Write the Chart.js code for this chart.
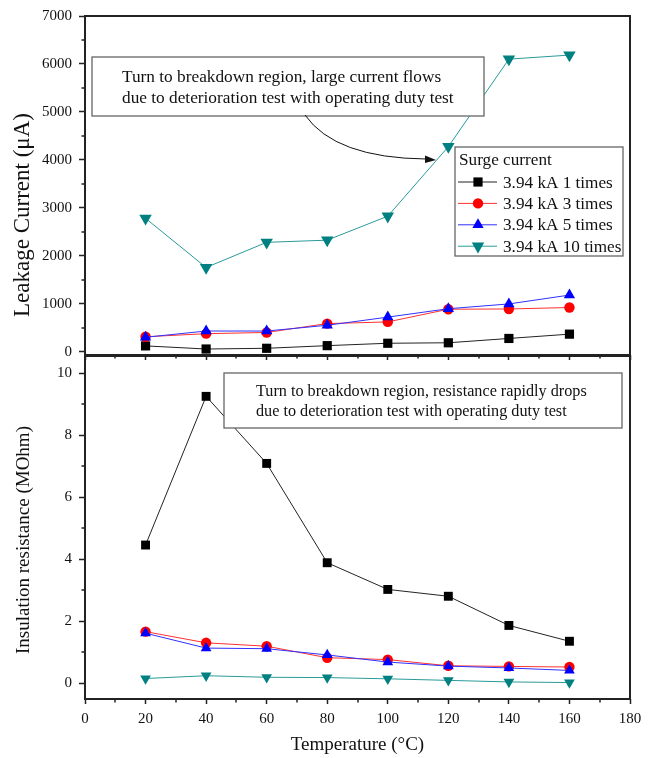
<!DOCTYPE html>
<html>
<head>
<meta charset="utf-8">
<script src="https://cdn.jsdelivr.net/npm/chart.js"></script>
<style>
  html, body { margin: 0; padding: 0; background: #fff; }
  #wrap { position: relative; width: 656px; height: 758px; background: #fff; }
  #cTop { position: absolute; left: 0; top: 0; }
  #cBottom { position: absolute; left: 0; top: 340px; }
</style>
</head>
<body>
<div id="wrap">
  <canvas id="cTop" width="656" height="380"></canvas>
  <canvas id="cBottom" width="656" height="418"></canvas>
</div>
<script>
// temperature (°C)
const temps = [20, 40, 60, 80, 100, 120, 140, 160];
const tempTicks = [0, 20, 40, 60, 80, 100, 120, 140, 160, 180];

const seriesNames = ["3.94 kA 1 times", "3.94 kA 3 times", "3.94 kA 5 times", "3.94 kA 10 times"];

// leakage current (µA)
const leak1 = [120, 55, 70, 125, 175, 185, 275, 365];
const leak3 = [310, 375, 400, 585, 620, 885, 890, 920];
const leak5 = [300, 430, 430, 550, 720, 895, 995, 1180];
const leak10 = [2780, 1755, 2280, 2325, 2825, 4275, 6100, 6185];
const leakTicks = [0, 1000, 2000, 3000, 4000, 5000, 6000, 7000];

// insulation resistance (MOhm)
const res1 = [4.46, 9.25, 7.09, 3.89, 3.03, 2.81, 1.87, 1.36];
const res3 = [1.67, 1.31, 1.20, 0.83, 0.77, 0.57, 0.55, 0.53];
const res5 = [1.62, 1.14, 1.12, 0.92, 0.69, 0.56, 0.50, 0.42];
const res10 = [0.16, 0.25, 0.20, 0.19, 0.15, 0.10, 0.05, 0.03];
const resTicks = [0, 2, 4, 6, 8, 10];

// styles
const colors = ["#000000", "#ff0000", "#0000ff", "#008080"];
const lineColors = ["#222222", "#ff3030", "#3030ff", "#2a9a9a"];
const pointStyles = ["rect", "circle", "triangle", "triangle"];
const rotations = [0, 0, 0, 180];
const serif = "'Liberation Serif', 'Times New Roman', serif";

function makeSets(values, radii) {
    return values.map((vals, i) => ({
        label: seriesNames[i],
        data: temps.map((t, k) => ({x: t, y: vals[k]})),
        borderColor: lineColors[i],
        backgroundColor: colors[i],
        borderWidth: 1,
        pointStyle: pointStyles[i],
        pointRotation: rotations[i],
        pointRadius: radii[i],
        pointHoverRadius: radii[i],
        pointBackgroundColor: colors[i],
        pointBorderColor: colors[i],
        pointBorderWidth: 0,
        tension: 0,
        order: 4 - i
    }));
}

function xAxis(showLabels, height) {
    return {
        type: "linear",
        min: 0,
        max: 180,
        afterBuildTicks: s => { s.ticks = tempTicks.map(v => ({value: v})); },
        afterFit: s => { s.height = height; },
        ticks: {
            display: showLabels,
            color: "#111",
            font: {family: serif, size: 15},
            padding: 6,
            maxRotation: 0,
            callback: v => String(v)
        },
        grid: {drawOnChartArea: false, drawTicks: true, tickLength: 5, tickColor: "#222", tickWidth: 1.5},
        border: {display: false},
        title: {
            display: showLabels,
            text: "Temperature (°C)",
            color: "#111",
            font: {family: serif, size: 19},
            padding: {top: 0, bottom: 2}
        }
    };
}

function yAxis(min, max, tickList) {
    return {
        type: "linear",
        min: min,
        max: max,
        afterBuildTicks: s => { s.ticks = tickList.map(v => ({value: v})); },
        afterFit: s => { s.width = 85; },
        ticks: {
            color: "#111",
            font: {family: serif, size: 15},
            padding: 7,
            callback: v => String(v)
        },
        grid: {drawOnChartArea: false, drawTicks: true, tickLength: 6, tickColor: "#222", tickWidth: 1.5},
        border: {display: false}
    };
}

// frame + minor ticks + rotated y title
function framePlugin(yTitle, titleX, titleY, titleSize, yMinor) {
    return {
        id: "frame",
        afterDraw(chart) {
            const ctx = chart.ctx;
            const a = chart.chartArea;
            const xs = chart.scales.x, ys = chart.scales.y;
            ctx.save();
            ctx.strokeStyle = "#222";
            ctx.lineWidth = 2;
            ctx.strokeRect(a.left, a.top, a.right - a.left, a.bottom - a.top);

            ctx.lineWidth = 1.5;
            ctx.beginPath();
            for (let i = 0; i < tempTicks.length - 1; i++) {
                const px = Math.round(xs.getPixelForValue((tempTicks[i] + tempTicks[i + 1]) / 2));
                ctx.moveTo(px, a.bottom);
                ctx.lineTo(px, a.bottom + 3.5);
            }
            yMinor.forEach(v => {
                const py = Math.round(ys.getPixelForValue(v));
                ctx.moveTo(a.left, py);
                ctx.lineTo(a.left - 3.5, py);
            });
            ctx.stroke();

            ctx.fillStyle = "#111";
            ctx.font = titleSize + "px " + serif;
            ctx.textAlign = "center";
            ctx.textBaseline = "middle";
            ctx.translate(titleX, titleY);
            ctx.rotate(-Math.PI / 2);
            ctx.fillText(yTitle, 0, 0);
            ctx.restore();
        }
    };
}

function noteBox(ctx, x0, y0, x1, y1, lines, tx, ty, size) {
    ctx.save();
    ctx.fillStyle = "#fff";
    ctx.fillRect(x0, y0, x1 - x0, y1 - y0);
    ctx.strokeStyle = "#666";
    ctx.lineWidth = 1.3;
    ctx.strokeRect(x0, y0, x1 - x0, y1 - y0);
    ctx.fillStyle = "#111";
    ctx.font = size + "px " + serif;
    ctx.textAlign = "left";
    ctx.textBaseline = "middle";
    lines.forEach((t, i) => ctx.fillText(t, tx, ty[i]));
    ctx.restore();
}

function marker(ctx, style, rot, x, y, r) {
    ctx.beginPath();
    if (style === "rect") {
        const s = r * Math.SQRT1_2;
        ctx.rect(x - s, y - s, 2 * s, 2 * s);
    } else if (style === "circle") {
        ctx.arc(x, y, r, 0, Math.PI * 2);
    } else {
        const d = rot === 180 ? -1 : 1;
        ctx.moveTo(x, y - d * r);
        ctx.lineTo(x + r * 0.866, y + d * r / 2);
        ctx.lineTo(x - r * 0.866, y + d * r / 2);
        ctx.closePath();
    }
    ctx.fill();
}

const topNotes = {
    id: "topNotes",
    afterDatasetsDraw(chart) {
        const ctx = chart.ctx;
        noteBox(ctx, 92, 57, 484, 116,
            ["Turn to breakdown region, large current flows",
             "due to deterioration test with operating duty test"],
            122, [77, 98], 17.3);

        // curved arrow
        ctx.save();
        ctx.strokeStyle = "#111";
        ctx.lineWidth = 1;
        ctx.beginPath();
        ctx.moveTo(305, 115);
        ctx.quadraticCurveTo(335, 158, 426, 159);
        ctx.stroke();
        ctx.fillStyle = "#111";
        ctx.beginPath();
        ctx.moveTo(436, 160);
        ctx.lineTo(425, 155.5);
        ctx.lineTo(425, 163);
        ctx.closePath();
        ctx.fill();

        // legend
        ctx.fillStyle = "#fff";
        ctx.fillRect(455, 147, 168, 109);
        ctx.strokeStyle = "#666";
        ctx.lineWidth = 1.3;
        ctx.strokeRect(455, 147, 168, 109);
        ctx.fillStyle = "#111";
        ctx.font = "17.2px " + serif;
        ctx.textAlign = "left";
        ctx.textBaseline = "middle";
        ctx.fillText("Surge current", 459, 160);
        chart.data.datasets.forEach((ds, i) => {
            const y = 182 + i * 21.4;
            ctx.strokeStyle = ds.borderColor;
            ctx.lineWidth = 1;
            ctx.beginPath();
            ctx.moveTo(458, y);
            ctx.lineTo(497, y);
            ctx.stroke();
            ctx.fillStyle = ds.pointBackgroundColor;
            marker(ctx, ds.pointStyle, ds.pointRotation, 478, y, ds.pointRadius);
            ctx.fillStyle = "#111";
            ctx.fillText(ds.label, 503, y + 1);
        });
        ctx.restore();
    }
};

const bottomNotes = {
    id: "bottomNotes",
    afterDatasetsDraw(chart) {
        noteBox(chart.ctx, 224, 33, 622, 88,
            ["Turn to breakdown region, resistance rapidly drops",
             "due to deterioration test with operating duty test"],
            256, [52, 72], 16.2);
    }
};

Chart.defaults.animation = false;
Chart.defaults.font.family = serif;

new Chart(document.getElementById("cTop"), {
    type: "line",
    data: {datasets: makeSets([leak1, leak3, leak5, leak10], [6.5, 5.2, 6.5, 7.2])},
    options: {
        responsive: false,
        animation: false,
        layout: {padding: {top: 13, right: 26, left: 0, bottom: 0}},
        plugins: {legend: {display: false}, tooltip: {enabled: false}},
        scales: {
            x: xAxis(false, 25),
            y: yAxis(-70, 7000, leakTicks)
        }
    },
    plugins: [topNotes, framePlugin("Leakage Current (μA)", 23, 215, 23,
        [500, 1500, 2500, 3500, 4500, 5500, 6500])]
});

new Chart(document.getElementById("cBottom"), {
    type: "line",
    data: {datasets: makeSets([res1, res3, res5, res10], [6.3, 5.2, 6.2, 6.2])},
    options: {
        responsive: false,
        animation: false,
        layout: {padding: {top: 15, right: 26, left: 0, bottom: 0}},
        plugins: {legend: {display: false}, tooltip: {enabled: false}},
        scales: {
            x: xAxis(true, 59),
            y: yAxis(-0.5, 10.55, resTicks)
        }
    },
    plugins: [bottomNotes, framePlugin("Insulation resistance (MOhm)", 24, 200, 19,
        [1, 3, 5, 7, 9])]
});
</script>
</body>
</html>
